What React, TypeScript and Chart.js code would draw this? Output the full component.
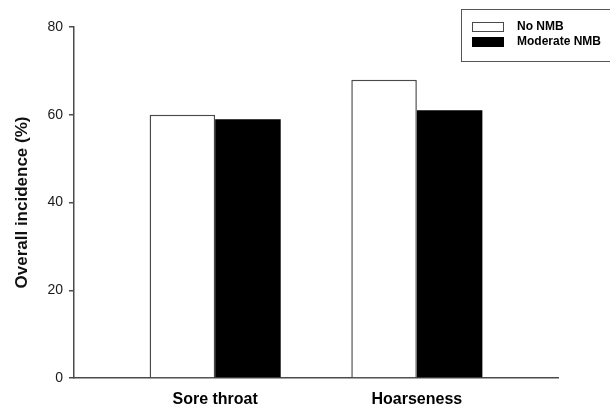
import React, { useEffect, useRef } from "react";
import { Chart, registerables } from "chart.js";

Chart.register(...registerables);

const categories = ["Sore throat", "Hoarseness"];
const seriesNames = ["No NMB", "Moderate NMB"];
const noNmb = [60, 68];
const moderateNmb = [59, 61];
const yTicks = [0, 20, 40, 60, 80];

const FONT = "'Liberation Sans', Arial, Helvetica, sans-serif";

const legendPlugin = {
  id: "boxLegend",
  afterDraw(chart: any) {
    const ctx = chart.ctx;
    ctx.save();
    ctx.strokeStyle = "#555";
    ctx.lineWidth = 1;
    ctx.strokeRect(461.5, 9.5, 160, 52);
    const ds = chart.data.datasets;
    const rows = [27, 42];
    ds.forEach((d: any, i: number) => {
      const cy = rows[i];
      ctx.fillStyle = d.backgroundColor;
      ctx.fillRect(472, cy - 5, 32, 10);
      ctx.strokeStyle = d.borderColor;
      ctx.lineWidth = 1;
      ctx.strokeRect(472.5, cy - 4.5, 31, 9);
      ctx.fillStyle = "#000";
      ctx.font = `bold 12px ${FONT}`;
      ctx.textBaseline = "middle";
      ctx.textAlign = "left";
      ctx.fillText(d.label, 517, cy);
    });
    ctx.restore();
  },
};

export default function App() {
  const ref = useRef<HTMLCanvasElement | null>(null);
  useEffect(() => {
    if (!ref.current) return;
    const chart = new Chart(ref.current, {
      type: "bar",
      data: {
        datasets: [
          {
            label: seriesNames[0],
            data: noNmb.map((v, i) => ({ x: i, y: v })),
            backgroundColor: "#ffffff",
            borderColor: "#4a4a4a",
            borderWidth: 1.5,
            barPercentage: 1,
            categoryPercentage: 0.65,
          },
          {
            label: seriesNames[1],
            data: moderateNmb.map((v, i) => ({ x: i, y: v })),
            backgroundColor: "#000000",
            borderColor: "#000000",
            borderWidth: 0,
            barPercentage: 1,
            categoryPercentage: 0.65,
          },
        ],
      },
      options: {
        animation: false,
        responsive: false,
        maintainAspectRatio: false,
        layout: { padding: { left: 0, top: 27, right: 52, bottom: 0 } },
        plugins: { legend: { display: false }, tooltip: { enabled: false } },
        scales: {
          x: {
            type: "linear",
            offset: false,
            min: -0.7,
            max: categories.length - 1 + 0.7,
            grid: { display: false, drawTicks: false, offset: false },
            border: { display: true, color: "#4a4a4a", width: 1.5 },
            afterBuildTicks: (s: any) => {
              s.ticks = categories.map((_, i) => ({ value: i }));
            },
            ticks: {
              autoSkip: false,
              maxRotation: 0,
              padding: 12,
              color: "#000",
              font: { family: FONT, size: 16, weight: "bold" },
              callback: (v: any) => categories[v] ?? "",
            },
            afterFit: (s: any) => {
              s.height = 31;
            },
          },
          y: {
            min: 0,
            max: 80,
            afterBuildTicks: (s: any) => {
              s.ticks = yTicks.map((v) => ({ value: v }));
            },
            grid: {
              display: true,
              drawOnChartArea: false,
              drawTicks: true,
              tickLength: 5,
              color: "#4a4a4a",
              lineWidth: 1.5,
            },
            border: { display: true, color: "#4a4a4a", width: 1.5 },
            ticks: {
              padding: 6,
              color: "#1a1a1a",
              font: { family: FONT, size: 14 },
            },
            title: {
              display: true,
              text: "Overall incidence (%)",
              color: "#111",
              font: { family: FONT, size: 17, weight: "bold" },
              padding: { top: 12, bottom: 0 },
            },
            afterFit: (s: any) => {
              s.width = 74;
            },
          },
        },
      },
      plugins: [legendPlugin],
    } as any);
    return () => chart.destroy();
  }, []);
  return (
    <div style={{ position: "absolute", left: 0, top: 0, width: 610, height: 409, background: "#fff" }}>
      <canvas ref={ref} width={610} height={409} style={{ width: 610, height: 409 }} />
    </div>
  );
}
